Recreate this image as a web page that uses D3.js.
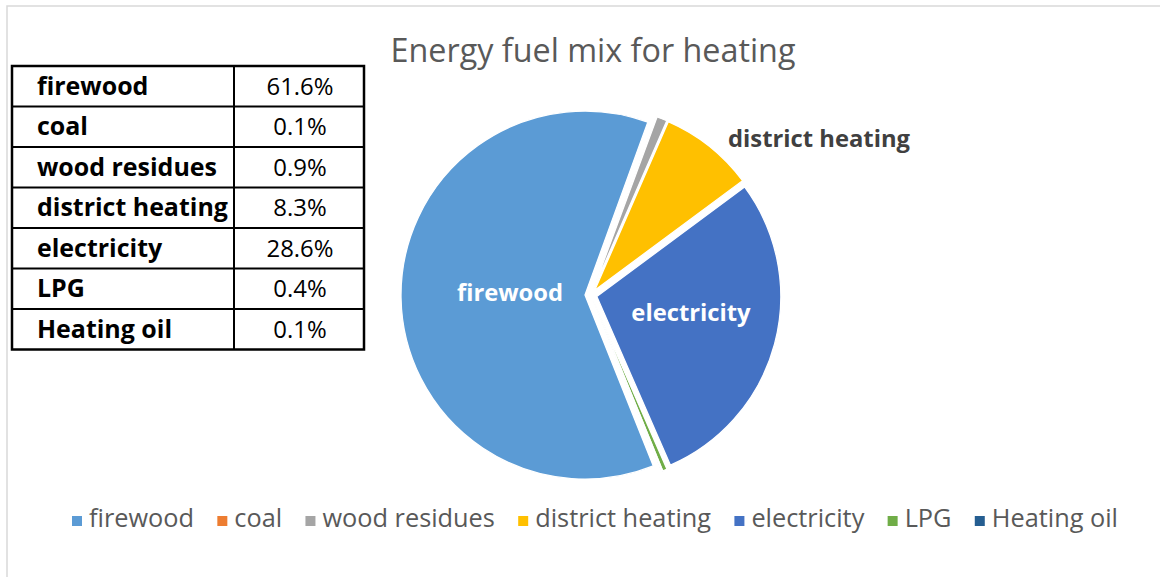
<!DOCTYPE html>
<html><head><meta charset="utf-8">
<script src="https://cdn.jsdelivr.net/npm/d3@7"></script>
<style>body{margin:0;background:#fff;}svg{display:block;font-family:"Open Sans",Lato,sans-serif;}</style>
</head><body>
<svg id="c" width="1160" height="577"></svg>
<script>
const categories = ["firewood","coal","wood residues","district heating","electricity","LPG","Heating oil"];
const values = [61.6,0.1,0.9,8.3,28.6,0.4,0.1];
const valueLabels = ["61.6%","0.1%","0.9%","8.3%","28.6%","0.4%","0.1%"];
const colors = ["#5B9BD5","#ED7D31","#A5A5A5","#FFC000","#4472C4","#70AD47","#255E91"];
const title = "Energy fuel mix for heating";

const svg = d3.select("#c");

// font size that makes `str` measure `target` px wide
function fitSize(str, target, weight){
  const t = svg.append("text").attr("font-size",100).attr("font-weight",weight||"normal").text(str);
  const w = t.node().getComputedTextLength(); t.remove();
  return 100*target/w;
}

// chart border
svg.append("path").attr("d","M7,577 V6 H1160").attr("fill","none").attr("stroke","#d9d9d9").attr("stroke-width",1.5);

// title
svg.append("text").attr("x",593).attr("y",62).attr("text-anchor","middle")
  .attr("font-size",fitSize(title,405)).attr("fill","#595959").text(title);

// pie
const cx=591, cy=295, r=184, explode=6;
const startA = 158.2*Math.PI/180;
const pie = d3.pie().sort(null).value(d=>d).startAngle(startA).endAngle(startA+2*Math.PI);
const arcs = pie(values);
const arc = d3.arc().innerRadius(0).outerRadius(r);
const g = svg.append("g").attr("transform",`translate(${cx},${cy})`);
g.selectAll("path").data(arcs).join("path")
  .attr("d",arc)
  .attr("fill",(d,i)=>colors[i])
  .attr("stroke","#fff").attr("stroke-width",1.3)
  .attr("transform",d=>{const m=(d.startAngle+d.endAngle)/2;return `translate(${explode*Math.sin(m)},${-explode*Math.cos(m)})`;});

// slice labels
const labSize = fitSize("district heating",182,"bold");
const lab = [
  {name:"firewood", dx:-81, dy:0, fill:"#fff"},
  {name:"electricity", dx:100, dy:20, fill:"#fff"},
  {name:"district heating", dx:228, dy:-154, fill:"#404040"}
];
lab.forEach(l=>{
  const i = categories.indexOf(l.name);
  g.append("text").attr("x",l.dx).attr("y",l.dy).attr("text-anchor","middle")
   .attr("dominant-baseline","middle").attr("font-weight","bold").attr("font-size",labSize)
   .attr("fill",l.fill).text(categories[i]);
});

// table
const tx0=12, tx1=234, tx2=364, ty0=66, rowH=40.5;
const tblBold = fitSize("district heating",191,"bold");
const tblVal = fitSize("28.6%",67);
const tg = svg.append("g");
categories.forEach((c,i)=>{
  const y = ty0 + i*rowH;
  tg.append("text").attr("x",tx0+25).attr("y",y+rowH/2+2).attr("dominant-baseline","middle")
    .attr("font-weight","bold").attr("font-size",tblBold).attr("fill","#000").text(c);
  tg.append("text").attr("x",(tx1+tx2)/2+1).attr("y",y+rowH/2+2).attr("dominant-baseline","middle")
    .attr("text-anchor","middle").attr("font-size",tblVal).attr("fill","#000").text(valueLabels[i]);
});
for(let i=1;i<categories.length;i++){
  tg.append("line").attr("x1",tx0).attr("x2",tx2).attr("y1",ty0+i*rowH).attr("y2",ty0+i*rowH).attr("stroke","#000").attr("stroke-width",2);
}
tg.append("line").attr("x1",tx1).attr("x2",tx1).attr("y1",ty0).attr("y2",ty0+7*rowH).attr("stroke","#000").attr("stroke-width",2);
tg.append("rect").attr("x",tx0).attr("y",ty0).attr("width",tx2-tx0).attr("height",7*rowH).attr("fill","none").attr("stroke","#000").attr("stroke-width",2.5);

// legend
const lg = svg.append("g");
const lx0=72, lx1=1118, ly=520, sq=10, pad=7;
const legSize = fitSize("district heating",176);
const items = categories.map((c,i)=>{
  const t = lg.append("text").attr("y",ly).attr("dominant-baseline","middle").attr("font-size",legSize).attr("fill","#595959").text(c);
  return {t, w:t.node().getComputedTextLength(), i};
});
const total = items.reduce((s,it)=>s+sq+pad+it.w,0);
const gap = (lx1-lx0-total)/(items.length-1);
let x=lx0;
items.forEach(it=>{
  lg.append("rect").attr("x",x).attr("y",ly-sq/2+1).attr("width",sq).attr("height",sq).attr("fill",colors[it.i]);
  it.t.attr("x",x+sq+pad);
  x += sq+pad+it.w+gap;
});
</script>
</body></html>
